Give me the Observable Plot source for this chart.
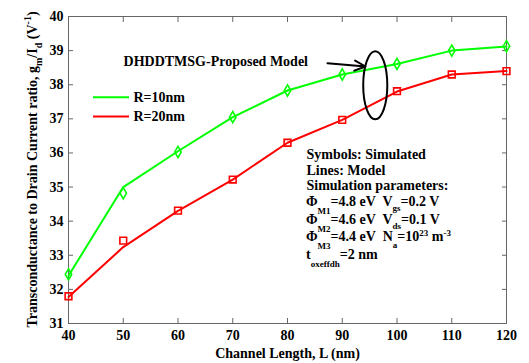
<!DOCTYPE html>
<html><head><meta charset="utf-8">
<script src="https://cdn.jsdelivr.net/npm/d3@7"></script>
<script src="https://cdn.jsdelivr.net/npm/@observablehq/plot@0.6"></script>
<style>body{margin:0;background:#fff} svg{display:block}</style>
</head><body><div id="chart"></div>
<script>
// ---- data ----
const channelLength = [40, 50, 60, 70, 80, 90, 100, 110, 120];
const seriesNames = ["R=10nm", "R=20nm"];
const seriesColors = ["#00ff00", "#ff0000"];
const modelR10 = [32.40, 35.00, 36.05, 37.05, 37.83, 38.30, 38.61, 39.00, 39.12];
const simR10   = [32.44, 34.82, 36.03, 37.05, 37.83, 38.30, 38.61, 39.00, 39.13];
const modelR20 = [31.78, 33.24, 34.30, 35.22, 36.30, 36.97, 37.80, 38.30, 38.40];
const simR20   = [31.80, 33.43, 34.31, 35.22, 36.30, 36.97, 37.81, 38.30, 38.40];
const xTicks = [40, 50, 60, 70, 80, 90, 100, 110, 120];
const yTicks = [31, 32, 33, 34, 35, 36, 37, 38, 39, 40];
const xTitle = "Channel Length, L (nm)";
const calloutText = "DHDDTMSG-Proposed Model";
const noteLines = ["Symbols: Simulated", "Lines: Model", "Simulation parameters:"];

const modelRows = [];
const simRows = [];
channelLength.forEach((L, i) => {
  modelRows.push({L, value: modelR10[i], series: seriesNames[0]});
  modelRows.push({L, value: modelR20[i], series: seriesNames[1]});
  simRows.push({L, value: simR10[i], series: seriesNames[0]});
  simRows.push({L, value: simR20[i], series: seriesNames[1]});
});

// annotation anchors (data coordinates)
const legendX1 = 44.57, legendX2 = 51.14, legendTextX = 51.87;
const legendY = [37.63, 37.07];
const noteX = 83.47;
const noteY = [35.808, 35.353, 34.913];
const richY = [34.43, 33.902, 33.404, 32.876];

const FONT = "'Liberation Serif', 'Times New Roman', serif";
const AX = "#666";

const plot = Plot.plot({
  width: 529, height: 363,
  marginLeft: 68, marginRight: 23, marginTop: 16, marginBottom: 40,
  style: {fontFamily: FONT, fontWeight: "bold", fontSize: "14px", background: "#fff", color: "#000", overflow: "visible"},
  x: {domain: [40, 120]},
  y: {domain: [31, 40]},
  color: {domain: seriesNames, range: seriesColors},
  marks: [
    Plot.frame({stroke: AX}),
    Plot.axisX(xTicks, {anchor: "bottom", tickSize: -5, tickFormat: () => "", stroke: AX, label: null}),
    Plot.axisX(xTicks, {anchor: "top", tickSize: -5, tickFormat: () => "", stroke: AX, label: null}),
    Plot.axisY(yTicks, {anchor: "left", tickSize: -5, tickFormat: () => "", stroke: AX, label: null}),
    Plot.axisY(yTicks, {anchor: "right", tickSize: -5, tickFormat: () => "", stroke: AX, label: null}),
    Plot.axisX(xTicks, {anchor: "bottom", tickSize: 0, tickPadding: 7, label: null, fontSize: 14, fill: "#000"}),
    Plot.axisY(yTicks, {anchor: "left", tickSize: 0, tickPadding: 5, label: null, fontSize: 14, fill: "#000"}),
    Plot.line(modelRows, {x: "L", y: "value", z: "series", stroke: "series", strokeWidth: 2}),
    Plot.dot(simRows.filter(d => d.series === seriesNames[0]), {x: "L", y: "value", stroke: "series", symbol: "diamond", r: 3.4, strokeWidth: 1.6}),
    Plot.dot(simRows.filter(d => d.series === seriesNames[1]), {x: "L", y: "value", stroke: "series", symbol: "square", r: 3.8, strokeWidth: 1.6}),
    Plot.ruleY(seriesNames, {y: (d, i) => legendY[i], x1: legendX1, x2: legendX2, stroke: d => d, strokeWidth: 2}),
    Plot.text(seriesNames, {x: legendTextX, y: (d, i) => legendY[i], text: d => d, textAnchor: "start", fontSize: 14, fontWeight: "bold"}),
    Plot.text([calloutText], {x: 50.05, y: 38.56, text: d => d, textAnchor: "start", lineAnchor: "bottom", fontSize: 14, fontWeight: "bold"}),
    Plot.arrow([0], {x1: 87.3, y1: 38.63, x2: 94.25, y2: 38.534, stroke: "#000", strokeWidth: 2, headLength: 9, headAngle: 50}),
    Plot.text(noteLines, {x: noteX, y: (d, i) => noteY[i], text: d => d, textAnchor: "start", lineAnchor: "bottom", fontSize: 14, fontWeight: "bold"}),
    Plot.text([xTitle], {frameAnchor: "bottom", dy: 34, text: d => d, lineAnchor: "bottom", fontSize: 14, fontWeight: "bold"})
  ]
});
document.getElementById("chart").appendChild(plot);

const sx = plot.scale("x").apply, sy = plot.scale("y").apply;
const svg = d3.select(plot);
const g = svg.append("g").attr("font-family", FONT).attr("font-weight", "bold").attr("fill", "#000").style("white-space", "pre");

function rich(sel, x, y, parts, size, anchor) {
  const t = sel.append("text").attr("x", x).attr("y", y).attr("font-size", size).attr("text-anchor", anchor || "start");
  let shift = 0;
  for (const [str, shiftTo, fs] of parts) {
    t.append("tspan").attr("dy", shiftTo - shift).attr("font-size", fs || size).text(str);
    shift = shiftTo;
  }
  return t;
}

// ellipse callout
const ell = {cx: 96.12, cy: 37.97, rx: 2.2, ry: 1.0};
svg.append("ellipse")
  .attr("cx", sx(ell.cx)).attr("cy", sy(ell.cy))
  .attr("rx", Math.abs(sx(ell.cx + ell.rx) - sx(ell.cx)))
  .attr("ry", Math.abs(sy(ell.cy + ell.ry) - sy(ell.cy)))
  .attr("fill", "none").attr("stroke", "#000").attr("stroke-width", 2);

// parameter lines with sub/superscripts
const rows = [
  [["\u03A6", 0], ["M1", 8, 9], ["=4.8 eV  V", 0], ["gs", 5, 9], ["=0.2 V", 0]],
  [["\u03A6", 0], ["M2", 8, 9], ["=4.6 eV  V", 0], ["ds", 5, 9], ["=0.1 V", 0]],
  [["\u03A6", 0], ["M3", 8, 9], ["=4.4 eV  N", 0], ["a", 7, 9], ["=10", 0], ["23", -5, 9], [" m", 0], ["-3", -5, 9]],
  [["t", 0], ["oxeffdh", 8, 9], ["=2 nm", 0]]
];
rows.forEach((parts, i) => rich(g, sx(noteX), sy(richY[i]), parts, 14));

// y-axis title (rotated)
const yMid = (sy(31) + sy(40)) / 2;
rich(g, 0, 0, [["Transconductance to Drain Current ratio, g", 0], ["m", 5, 10], ["/I", 0], ["d", 5, 10], [" (V", 0], ["-1", -6, 10], [")", 0]], 14, "middle")
  .attr("transform", `translate(37,${yMid}) rotate(-90)`);
</script>
</body></html>
